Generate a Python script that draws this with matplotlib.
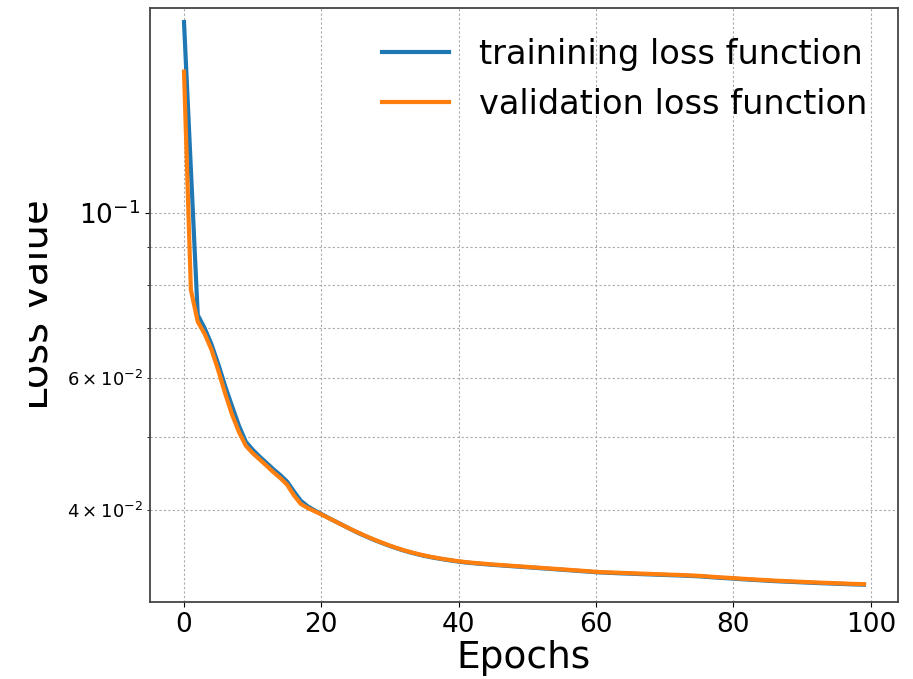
import matplotlib
matplotlib.use("Agg")
import matplotlib.pyplot as plt
from matplotlib.transforms import Bbox

epochs = list(range(100))

train_loss = [
    0.1800, 0.1144, 0.0729, 0.0700, 0.0666, 0.0626, 0.0585, 0.0550, 0.0518, 0.0493,
    0.0481, 0.0471, 0.0462, 0.0453, 0.0445, 0.0436, 0.0423, 0.0411, 0.0404, 0.0399,
    0.03945, 0.03900, 0.03858, 0.03816, 0.03775, 0.03735, 0.03698, 0.03664, 0.03632, 0.03602,
    0.03574, 0.03548, 0.03524, 0.03503, 0.03484, 0.03467, 0.03452, 0.03439, 0.03427, 0.03416,
    0.03406, 0.03397, 0.03390, 0.03384, 0.03378, 0.03372, 0.03367, 0.03362, 0.03357, 0.03352,
    0.03347, 0.03342, 0.03337, 0.03332, 0.03327, 0.03322, 0.03317, 0.03312, 0.03307, 0.03302,
    0.03296, 0.03293, 0.0329, 0.03287, 0.03284, 0.03282, 0.03279, 0.03276, 0.03274, 0.03271,
    0.03269, 0.03266, 0.03264, 0.03261, 0.03258, 0.03255, 0.0325, 0.03245, 0.0324, 0.03236,
    0.03232, 0.03227, 0.03223, 0.03219, 0.03215, 0.03211, 0.03207, 0.03204, 0.03201, 0.03198,
    0.03195, 0.03192, 0.03189, 0.03186, 0.03184, 0.03181, 0.03179, 0.03176, 0.03174, 0.03172,
]

val_loss = [
    0.1545, 0.0788, 0.0714, 0.0688, 0.0655, 0.0614, 0.0572, 0.0536, 0.0508, 0.0487,
    0.0476, 0.0467, 0.0458, 0.0449, 0.0441, 0.0432, 0.0418, 0.0407, 0.0402, 0.0398,
    0.03940, 0.03898, 0.03857, 0.03816, 0.03776, 0.03738, 0.03702, 0.03668, 0.03636, 0.03606,
    0.03578, 0.03552, 0.03528, 0.03507, 0.03488, 0.03471, 0.03456, 0.03443, 0.03431, 0.03420,
    0.03410, 0.03401, 0.03394, 0.03388, 0.03382, 0.03376, 0.03371, 0.03366, 0.03361, 0.03356,
    0.03351, 0.03346, 0.03341, 0.03336, 0.03331, 0.03326, 0.03321, 0.03316, 0.03311, 0.03306,
    0.0330, 0.03297, 0.03294, 0.03292, 0.03289, 0.03287, 0.03284, 0.03281, 0.03279, 0.03276,
    0.03274, 0.03271, 0.03269, 0.03266, 0.03263, 0.03260, 0.03255, 0.03250, 0.03245, 0.03241,
    0.03237, 0.03232, 0.03228, 0.03224, 0.03220, 0.03216, 0.03212, 0.03209, 0.03206, 0.03203,
    0.03200, 0.03197, 0.03194, 0.03191, 0.03189, 0.03186, 0.03184, 0.03181, 0.03179, 0.03177,
]

series_labels = ["trainining loss function", "validation loss function"]

W, H, DPI = 913, 679, 100
fig = plt.figure(figsize=(W / DPI, H / DPI), dpi=DPI)
ax = fig.add_axes([150 / W, 1 - 602 / H, (898 - 150) / W, (602 - 8) / H])

ax.plot(epochs, train_loss, color="#1f77b4", lw=3, label=series_labels[0])
ax.plot(epochs, val_loss, color="#ff7f0e", lw=3, label=series_labels[1])

ax.set_yscale("log")
ax.set_xlim(-4.95, 103.95)
ax.set_ylim(0.03007, 0.188)

ax.grid(True, which="both", linestyle=(0, (2, 2)), linewidth=0.8, color="#aaaaaa")
ax.tick_params(axis="both", which="major", labelsize=19)
ax.tick_params(axis="y", which="minor", labelsize=13)

for s in ax.spines.values():
    s.set_color("#444444")
    s.set_linewidth(1.3)

ax.set_xlabel("Epochs", fontsize=27)
ax.xaxis.set_label_coords(0.5, -0.064)
lab = ax.set_ylabel("Loss value", fontsize=29)
ax.yaxis.set_label_coords((57 - 150) / 748, 0.5)
lab.set_clip_box(Bbox([[29, 0], [W, H]]))

ax.legend(loc="upper right", fontsize=24.2, frameon=False, handletextpad=0.9)

fig.savefig("out.png", dpi=DPI)
